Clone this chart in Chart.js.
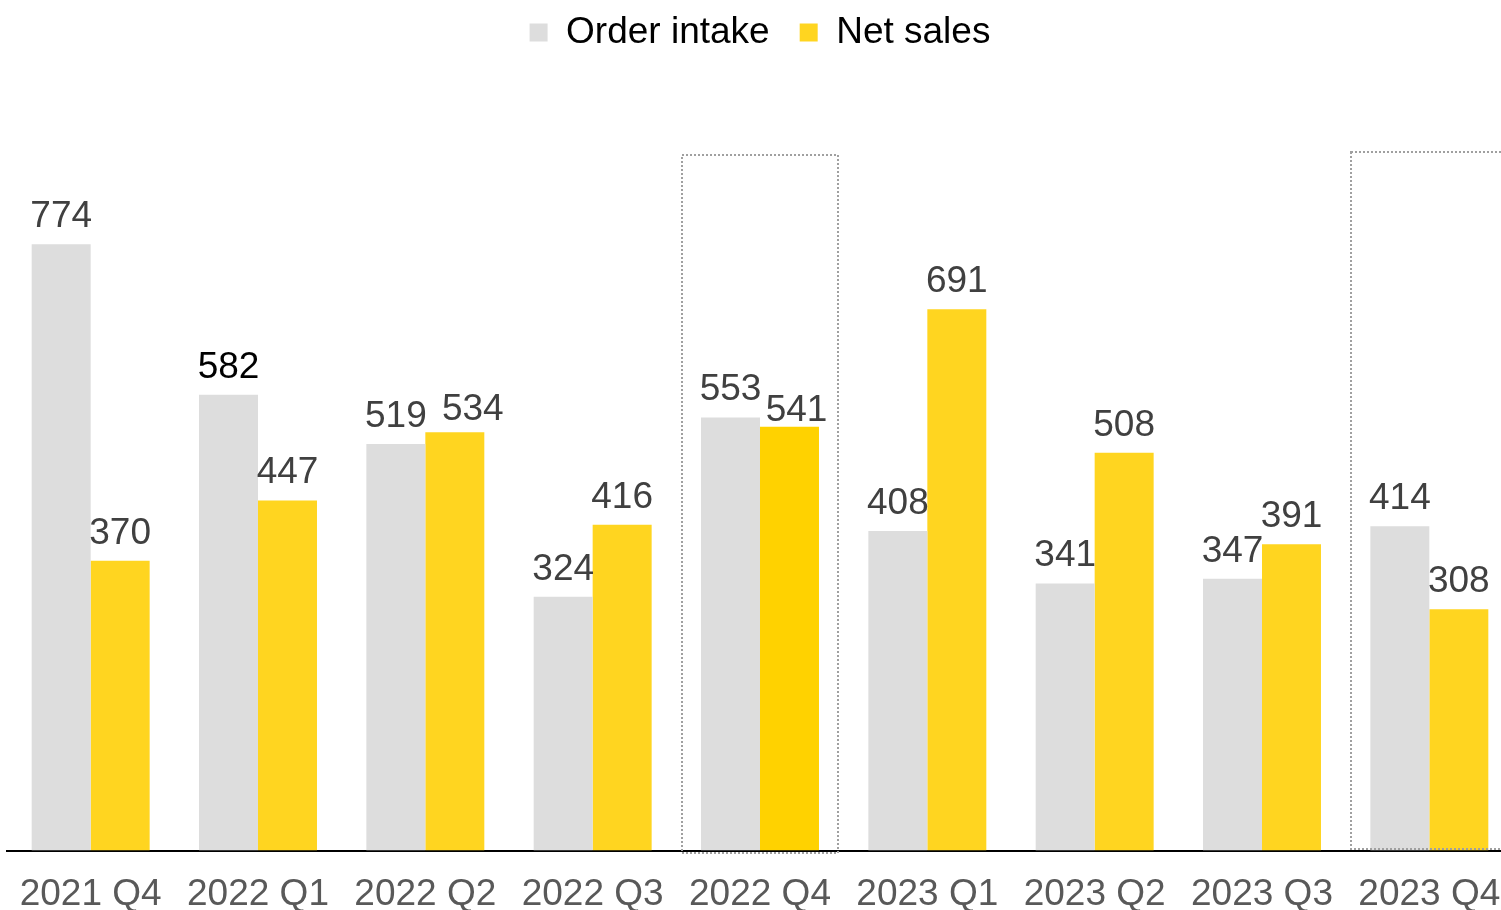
<!DOCTYPE html>
<html>
<head>
<meta charset="utf-8">
<script src="https://cdn.jsdelivr.net/npm/chart.js@4.4.0/dist/chart.umd.min.js"></script>
<style>
  html, body { margin: 0; padding: 0; background: #fff; overflow: hidden; }
  #chartBox { width: 1515px; height: 910px; }
</style>
</head>
<body>
<div id="chartBox"><canvas id="salesChart" width="1515" height="910"></canvas></div>
<script>
const quarters = ['2021 Q4', '2022 Q1', '2022 Q2', '2022 Q3', '2022 Q4', '2023 Q1', '2023 Q2', '2023 Q3', '2023 Q4'];
const orderIntake = [774, 582, 519, 324, 553, 408, 341, 347, 414];
const netSales = [370, 447, 534, 416, 541, 691, 508, 391, 308];
const highlighted = ['2022 Q4', '2023 Q4'];

const GREY = '#dddddd';
const YELLOW = '#ffd520';
const YELLOW_HI = '#ffd200';

// small nudges for labels that sit off-centre in the original
const labelNudge = { '1-2': [18, 5], '1-4': [7, 11] };

const valueLabels = {
  id: 'valueLabels',
  afterDatasetsDraw(chart) {
    const ctx = chart.ctx;
    ctx.save();
    ctx.font = '37px "Liberation Sans", Arial, sans-serif';
    ctx.textAlign = 'center';
    ctx.textBaseline = 'alphabetic';
    chart.data.datasets.forEach((ds, di) => {
      chart.getDatasetMeta(di).data.forEach((bar, i) => {
        const n = labelNudge[di + '-' + i] || [0, 0];
        ctx.fillStyle = (di === 0 && i === 1) ? '#000000' : '#404040';
        ctx.fillText(ds.data[i], bar.x + n[0], bar.y - 17 + n[1]);
      });
    });
    ctx.restore();
  }
};

const dottedBoxes = {
  id: 'dottedBoxes',
  afterDraw(chart) {
    const ctx = chart.ctx;
    const x = chart.scales.x, y = chart.scales.y;
    const half = (x.getPixelForValue(1) - x.getPixelForValue(0)) * 0.466;
    ctx.save();
    ctx.strokeStyle = '#a0a0a0';
    ctx.lineWidth = 2;
    ctx.setLineDash([2, 2]);
    highlighted.forEach((q, k) => {
      const cx = Math.round(x.getPixelForValue(quarters.indexOf(q)));
      const top = Math.round(y.getPixelForValue(k === 0 ? 888 : 892));
      const bottom = Math.round(y.getPixelForValue(0)) + (k === 0 ? 2 : -2);
      ctx.strokeRect(cx - Math.round(half), top, Math.round(half) * 2, bottom - top);
    });
    ctx.restore();
  }
};

document.addEventListener("DOMContentLoaded", () => {
  const ctx = document.getElementById('salesChart');
  Chart.defaults.font.family = '"Liberation Sans", Arial, sans-serif';
  Chart.defaults.color = '#595959';

  new Chart(ctx, {
    type: 'bar',
    data: {
      labels: quarters,
      datasets: [
        {
          label: 'Order intake',
          data: orderIntake,
          backgroundColor: GREY
        },
        {
          label: 'Net sales',
          data: netSales,
          backgroundColor: quarters.map(q => q === '2022 Q4' ? YELLOW_HI : YELLOW)
        }
      ]
    },
    options: {
      responsive: false,
      animation: false,
      devicePixelRatio: 1,
      layout: { padding: { left: 7, right: 2, top: -16, bottom: -21 } },
      datasets: { bar: { categoryPercentage: 0.705, barPercentage: 1.0 } },
      plugins: {
        legend: {
          position: 'top',
          labels: {
            boxWidth: 18,
            boxHeight: 18,
            padding: 30,
            font: { size: 37 },
            color: '#595959',
            generateLabels: (chart) => [
              { text: 'Order intake', fillStyle: GREY, strokeStyle: GREY, lineWidth: 0, datasetIndex: 0 },
              { text: 'Net sales', fillStyle: YELLOW, strokeStyle: YELLOW, lineWidth: 0, datasetIndex: 1 }
            ]
          }
        },
        tooltip: { enabled: false }
      },
      scales: {
        x: {
          grid: { display: false },
          border: { display: true, color: '#000000', width: 2 },
          ticks: { font: { size: 37 }, color: '#595959', padding: 14, maxRotation: 0 }
        },
        y: {
          display: false,
          min: 0,
          max: 1008
        }
      }
    },
    plugins: [valueLabels, dottedBoxes]
  });
});
</script>
</body>
</html>
